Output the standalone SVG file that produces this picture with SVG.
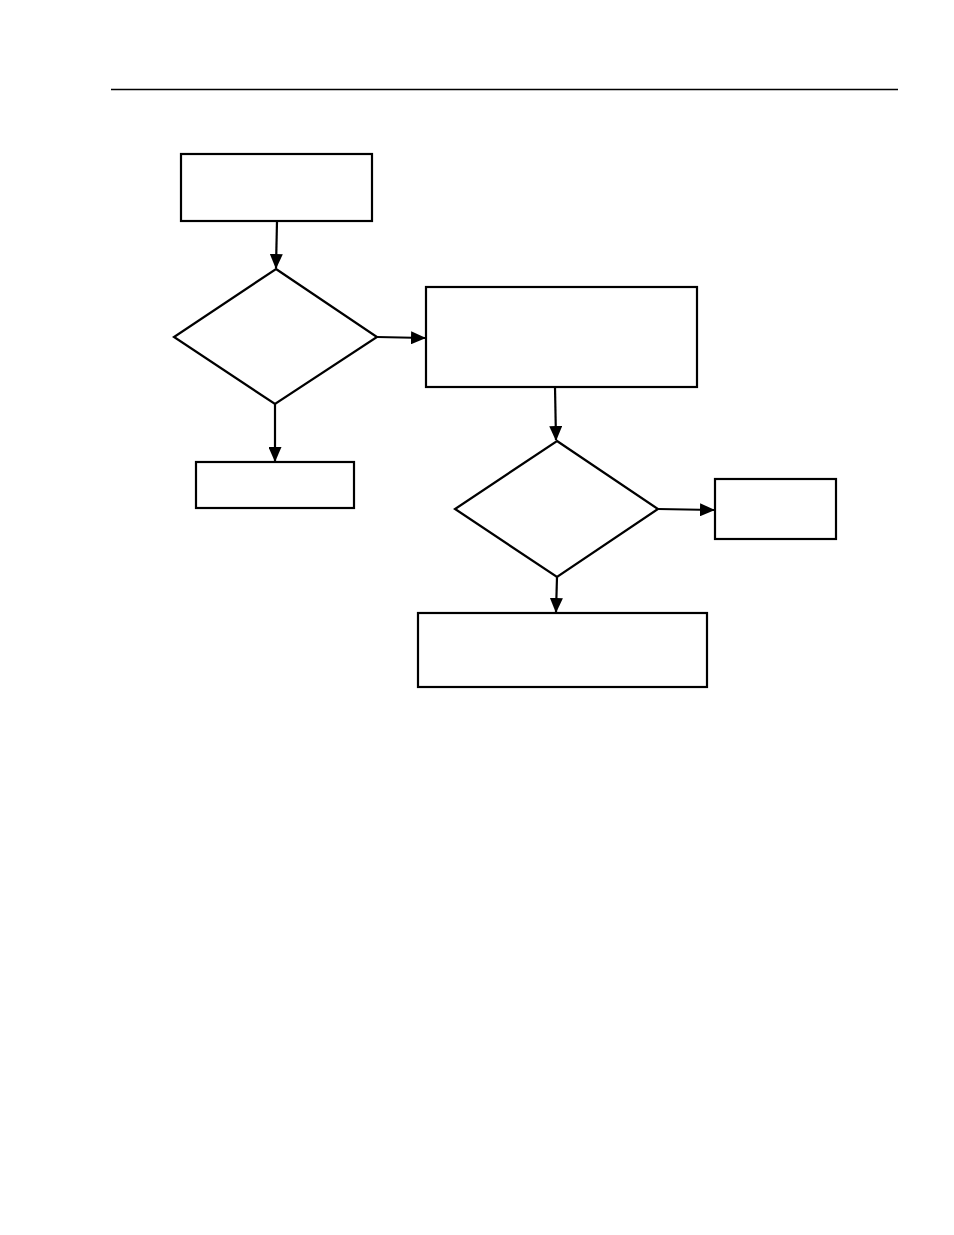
<svg xmlns="http://www.w3.org/2000/svg" width="954" height="1235" viewBox="0 0 954 1235">
<style>
.n{fill:#fff;stroke:#000;stroke-width:2.2}
.c{fill:none;stroke:#000;stroke-width:2.2}
</style>
<defs>
<marker id="ah" markerUnits="userSpaceOnUse" markerWidth="15" markerHeight="13" viewBox="0 0 15 13" refX="14" refY="6.5" orient="auto">
<path d="M0,0 L15,6.5 L0,13 z" fill="#000"/>
</marker>
</defs>
<rect width="954" height="1235" fill="#fff"/>
<line x1="111" y1="89.5" x2="898" y2="89.5" stroke="#000" stroke-width="1.5"/>
<g id="start"><rect class="n" x="181" y="154" width="191" height="67"/></g>
<g id="decision1"><polygon class="n" points="276,269 377,337 275,404 174,337"/></g>
<g id="process2"><rect class="n" x="426" y="287" width="271" height="100"/></g>
<g id="end1"><rect class="n" x="196" y="462" width="158" height="46"/></g>
<g id="decision2"><polygon class="n" points="557,441 658,509 557,577 455,509"/></g>
<g id="end2"><rect class="n" x="715" y="479" width="121" height="60"/></g>
<g id="end3"><rect class="n" x="418" y="613" width="289" height="74"/></g>
<g id="connectors">
<line class="c" x1="277" y1="221" x2="276" y2="268" marker-end="url(#ah)"/>
<line class="c" x1="377" y1="337" x2="425" y2="338" marker-end="url(#ah)"/>
<line class="c" x1="275" y1="404" x2="275" y2="461" marker-end="url(#ah)"/>
<line class="c" x1="555" y1="387" x2="556" y2="440" marker-end="url(#ah)"/>
<line class="c" x1="658" y1="509" x2="714" y2="510" marker-end="url(#ah)"/>
<line class="c" x1="557" y1="577" x2="556" y2="612" marker-end="url(#ah)"/>
</g>
</svg>
